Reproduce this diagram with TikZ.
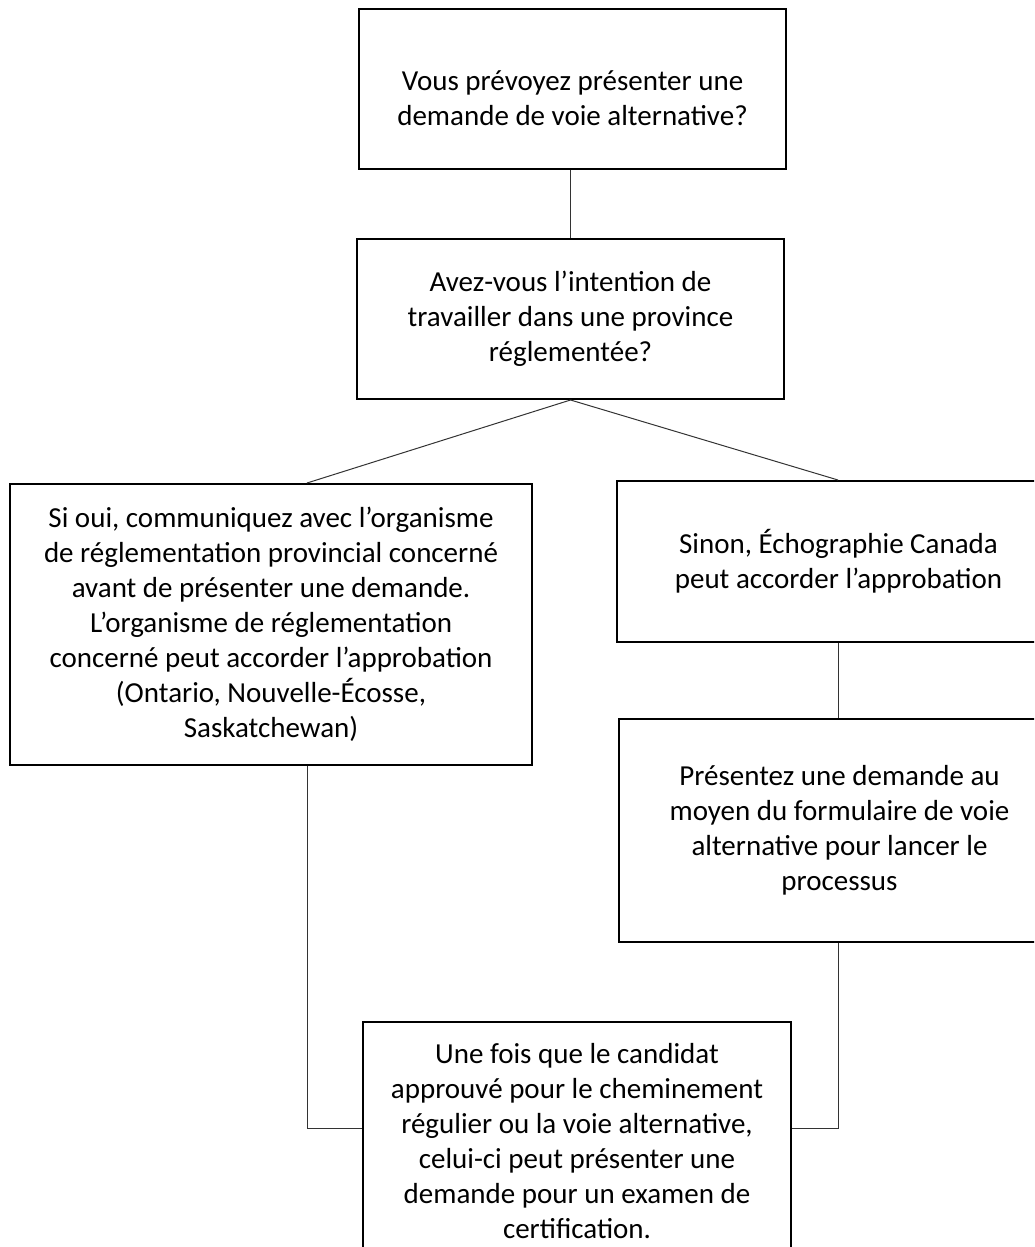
\documentclass[tikz,border=0pt]{standalone}
\usepackage{fontspec}
\setmainfont{Carlito}
\usetikzlibrary{positioning,calc}

\begin{document}
\begin{tikzpicture}[x=0.5pt,y=-0.5pt,
stage box/.style={draw,line width=1pt,inner xsep=2.5pt,inner ysep=0pt,align=center,font=\fontsize{14.5}{17.5}\selectfont},
link/.style={draw=black!80,line width=0.5pt}]
\useasboundingbox (0,0) rectangle (1034,1247);
\clip (0,0) rectangle (1034,1247);
\node[stage box,minimum width=213.5pt,minimum height=80pt] (ask) at (572.5,89) {\rule{0pt}{19pt}Vous prévoyez présenter une\\demande de voie alternative?};
\node[stage box,minimum width=213.5pt,minimum height=80pt] (prov) at (570.5,319) {Avez-vous l’intention de\\travailler dans une province\\réglementée?};
\node[stage box,minimum width=261pt,minimum height=140.5pt] (yes) at (271,624.5) {Si oui, communiquez avec l’organisme\\de réglementation provincial concerné\\avant de présenter une demande.\\L’organisme de réglementation\\concerné peut accorder l’approbation\\(Ontario, Nouvelle-Écosse,\\Saskatchewan)};
\node[stage box,minimum width=221.5pt,minimum height=80.5pt] (no) at (838.5,561.5) {Sinon, Échographie Canada\\peut accorder l’approbation};
\node[stage box,minimum width=220.5pt,minimum height=111.5pt] (form) at (839.5,830.5) {Présentez une demande au\\moyen du formulaire de voie\\alternative pour lancer le\\processus};
\node[stage box,minimum width=214pt,minimum height=119pt] (exam) at (577,1141) {Une fois que le candidat\\approuvé pour le cheminement\\régulier ou la voie alternative,\\celui-ci peut présenter une\\demande pour un examen de\\certification.};
% connectors
\coordinate (lx) at (307,0);
\coordinate (rx) at (838,0);
\coordinate (jy) at (0,1128);
\draw[link] (prov.north) -- (prov.north |- ask.south);
\draw[link] (prov.south) -- (yes.north -| lx);
\draw[link] (prov.south) -- (no.north -| rx);
\draw[link] (no.south -| rx) -- (form.north -| rx);
\draw[link] (yes.south -| lx) -- (lx |- jy) -- (exam.west |- jy);
\draw[link] (form.south -| rx) -- (rx |- jy) -- (exam.east |- jy);
\end{tikzpicture}
\end{document}
